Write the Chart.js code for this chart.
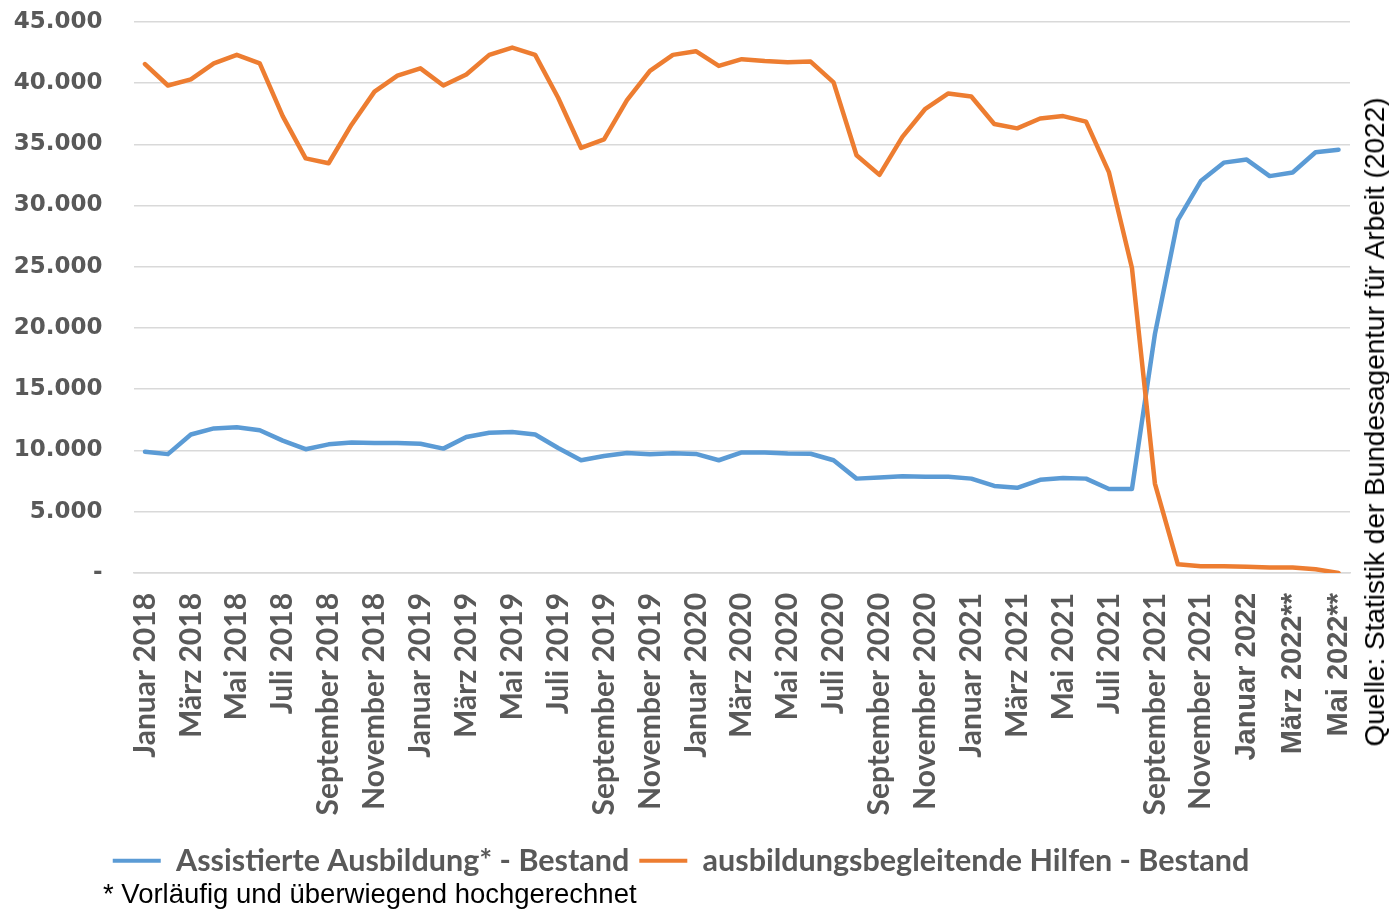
<!DOCTYPE html>
<html lang="de">
<head>
<meta charset="utf-8">
<script src="https://cdn.jsdelivr.net/npm/chart.js@4/dist/chart.umd.min.js"></script>
<style>
  html, body { margin: 0; padding: 0; background: #fff; overflow: hidden; }
  #wrap { position: relative; width: 1389px; height: 910px; overflow: hidden; }
  #chart { position: absolute; left: 0; top: -23px; }
  #note {
    position: absolute; left: 103px; top: 878px;
    font: 27.5px "Liberation Sans", Arial, sans-serif; color: #000;
  }
  #source {
    position: absolute; left: 1375px; top: 422px;
    transform: translate(-50%, -50%) rotate(-90deg);
    white-space: nowrap;
    font: 28px "Liberation Sans", Arial, sans-serif; color: #000;
  }
</style>
</head>
<body>
<div id="wrap">
  <canvas id="chart" width="1389" height="933"></canvas>
  <div id="note">* Vorläufig und überwiegend hochgerechnet</div>
  <div id="source">Quelle: Statistik der Bundesagentur für Arbeit (2022)</div>
</div>
<script>
// Monate Januar 2018 bis Mai 2022
const months = ['Januar', 'Februar', 'März', 'April', 'Mai', 'Juni', 'Juli',
  'August', 'September', 'Oktober', 'November', 'Dezember'];
const years = [2018, 2019, 2020, 2021, 2022];

const labels = [];
years.forEach(y => {
  months.forEach((m, i) => {
    if (y === 2022 && i > 4) return;
    labels.push(m + ' ' + y + (y === 2022 && i > 0 ? '**' : ''));
  });
});

// Bestand Assistierte Ausbildung (AsA)
const asaBestand = [
  9900, 9700, 11300, 11800, 11900, 11650, 10800, 10100, 10500, 10650, 10600, 10600,
  10550, 10150, 11100, 11450, 11500, 11300, 10200, 9200, 9550, 9800, 9700, 9780,
  9720, 9200, 9840, 9840, 9760, 9730, 9200, 7700, 7800, 7900, 7850, 7850,
  7700, 7100, 6950, 7600, 7750, 7700, 6850, 6850, 19500, 28800, 32000, 33500,
  33750, 32400, 32700, 34350, 34550
];

// Bestand ausbildungsbegleitende Hilfen (abH)
const abhBestand = [
  41550, 39800, 40300, 41600, 42300, 41600, 37300, 33850, 33450, 36600, 39300, 40600,
  41200, 39800, 40700, 42300, 42900, 42300, 38800, 34700, 35400, 38600, 41000, 42300,
  42600, 41400, 41950, 41800, 41700, 41750, 40050, 34100, 32500, 35600, 37900, 39150,
  38900, 36650, 36300, 37100, 37300, 36850, 32700, 24900, 7300, 700, 550, 550,
  500, 450, 450, 300, 0
];

const blue = '#5B9BD5';
const orange = '#ED7D31';
const grey = '#595959';

const formatTick = v => v === 0 ? '-' : String(v).replace(/\B(?=(\d{3})+(?!\d))/g, '.');

const ctx = document.getElementById('chart').getContext('2d');
new Chart(ctx, {
  type: 'line',
  data: {
    labels: labels,
    datasets: [{
      label: 'Assistierte Ausbildung* - Bestand',
      data: asaBestand,
      borderColor: blue,
      backgroundColor: blue,
      borderWidth: 4.5,
      borderCapStyle: 'round',
      borderJoinStyle: 'round',
      pointRadius: 0,
      tension: 0,
      order: 1
    }, {
      label: 'ausbildungsbegleitende Hilfen - Bestand',
      data: abhBestand,
      borderColor: orange,
      backgroundColor: orange,
      borderWidth: 4.5,
      borderCapStyle: 'round',
      borderJoinStyle: 'round',
      pointRadius: 0,
      tension: 0,
      order: 0
    }]
  },
  options: {
    responsive: false,
    animation: false,
    layout: { padding: { left: 12, right: 39, top: 7, bottom: 24 } },
    plugins: {
      tooltip: { enabled: false },
      legend: {
        position: 'bottom',
        labels: {
          boxWidth: 48,
          boxHeight: 4,
          padding: 10,
          color: grey,
          font: { family: 'Lato', size: 30.5, weight: 'bold' },
          generateLabels: chart => Chart.defaults.plugins.legend.labels.generateLabels(chart)
            .map(l => Object.assign(l, { lineWidth: 0 }))
            .sort((a, b) => a.datasetIndex - b.datasetIndex)
        }
      }
    },
    scales: {
      x: {
        offset: true,
        grid: { display: false, drawTicks: false },
        border: { display: true, color: '#d9d9d9', width: 1.5 },
        afterFit: scale => { scale.paddingRight = 0; },
        ticks: {
          autoSkip: false,
          maxRotation: 90,
          minRotation: 90,
          padding: 20,
          color: grey,
          font: c => c.index >= 48
            ? { family: 'Liberation Sans', size: 29, weight: 'bold' }
            : { family: 'Lato', size: 30, weight: 'bold' },
          callback: (v, i) => i % 2 === 0 ? labels[i] : ''
        }
      },
      y: {
        min: 0,
        max: 45000,
        grid: { color: '#d9d9d9', lineWidth: 1.5, drawTicks: false },
        border: { display: false },
        afterFit: scale => { scale.width = 121.5; },
        ticks: {
          stepSize: 5000,
          padding: 31,
          color: grey,
          font: { family: 'DejaVu Sans', size: 23, weight: 'bold' },
          callback: v => formatTick(v)
        }
      }
    }
  }
});
</script>
</body>
</html>
